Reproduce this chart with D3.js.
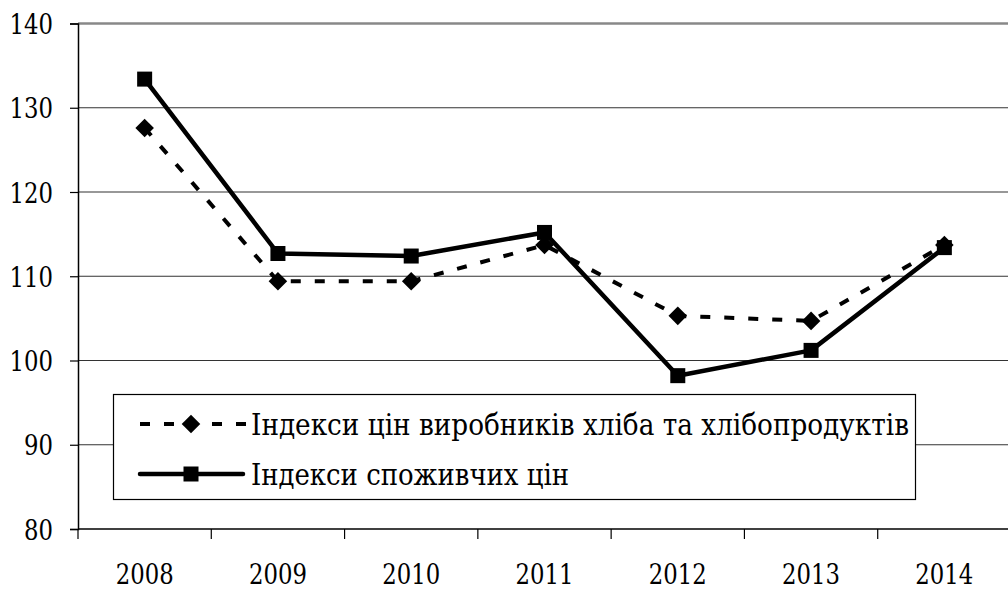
<!DOCTYPE html>
<html>
<head>
<meta charset="utf-8">
<script src="https://cdn.jsdelivr.net/npm/d3@7"></script>
<style>
  body { margin: 0; background: #fff; }
</style>
</head>
<body>
<svg id="chart" width="1008" height="592"></svg>
<script>
// data
var years = ["2008", "2009", "2010", "2011", "2012", "2013", "2014"];
var breadIdx = [127.6, 109.4, 109.4, 113.7, 105.3, 104.7, 113.7];
var cpiIdx = [133.4, 112.7, 112.4, 115.2, 98.2, 101.2, 113.4];
var yTicks = [80, 90, 100, 110, 120, 130, 140];
var legendNames = ["Індекси цін виробників хліба та хлібопродуктів", "Індекси споживчих цін"];

var FONT = "DejaVu Serif";

var svg = d3.select("#chart");
var plotL = 78, plotR = 1011, plotT = 23.5, plotB = 529;

var x = d3.scaleBand().domain(years).range([plotL, plotR]);
var y = d3.scaleLinear().domain([80, 140]).range([plotB, plotT]);

// gridlines
svg.append("g").selectAll("line").data(yTicks.slice(1, 6)).enter().append("line")
    .attr("x1", plotL).attr("x2", 1008)
    .attr("y1", function(d){ return y(d); }).attr("y2", function(d){ return y(d); })
    .attr("stroke", "#333").attr("stroke-width", 1.2);

// top border of plot
svg.append("line").attr("x1", plotL).attr("x2", 1008).attr("y1", plotT).attr("y2", plotT)
    .attr("stroke", "#888").attr("stroke-width", 2.5);

// y axis
var yAxis = d3.axisLeft(y).tickValues(yTicks).tickSize(8).tickPadding(10);
var gy = svg.append("g").attr("transform", "translate(" + plotL + ",0)").call(yAxis);
gy.select(".domain").attr("stroke", "#000").attr("stroke-width", 1.5);
gy.selectAll(".tick line").attr("stroke", "#000").attr("stroke-width", 1.2);
gy.selectAll("text").style("font-family", FONT).style("font-size", "28px")
    .attr("fill", "#000").attr("dy", "0.36em").attr("x", -25)
    .attr("textLength", function(d){ return String(d).length * 14.5; })
    .attr("lengthAdjust", "spacingAndGlyphs");

// x axis
var gx = svg.append("g").attr("transform", "translate(0," + plotB + ")");
gx.append("line").attr("x1", plotL).attr("x2", 1008).attr("y1", 0).attr("y2", 0)
    .attr("stroke", "#000").attr("stroke-width", 1.5);
gx.selectAll("line.tk").data(years).enter().append("line").attr("class", "tk")
    .attr("x1", function(d){ return x(d); }).attr("x2", function(d){ return x(d); })
    .attr("y1", 0).attr("y2", 10).attr("stroke", "#000").attr("stroke-width", 1.2);
gx.selectAll("text").data(years).enter().append("text")
    .attr("x", function(d){ return x(d) + x.bandwidth() / 2; })
    .attr("y", 55).attr("text-anchor", "middle")
    .style("font-family", FONT).style("font-size", "28px")
    .attr("textLength", 58).attr("lengthAdjust", "spacingAndGlyphs")
    .text(function(d){ return d; });

function cx(i){ return x(years[i]) + x.bandwidth() / 2; }

var line = d3.line().x(function(d, i){ return cx(i); }).y(function(d){ return y(d); });

// bread series, dashed with diamonds
svg.append("path").datum(breadIdx).attr("d", line).attr("fill", "none")
    .attr("stroke", "#000").attr("stroke-width", 4).attr("stroke-dasharray", "10,14");
svg.append("g").selectAll("path").data(breadIdx).enter().append("path")
    .attr("d", d3.symbol().type(d3.symbolDiamond2).size(220))
    .attr("transform", function(d, i){ return "translate(" + cx(i) + "," + y(d) + ")"; })
    .attr("fill", "#000");

// cpi series, solid with squares
svg.append("path").datum(cpiIdx).attr("d", line).attr("fill", "none")
    .attr("stroke", "#000").attr("stroke-width", 4.5).attr("stroke-linejoin", "round");
svg.append("g").selectAll("rect").data(cpiIdx).enter().append("rect")
    .attr("x", function(d, i){ return cx(i) - 7.5; }).attr("y", function(d){ return y(d) - 7.5; })
    .attr("width", 15).attr("height", 15).attr("fill", "#000");

// legend
var lg = svg.append("g");
lg.append("rect").attr("x", 113.5).attr("y", 394.5).attr("width", 802).attr("height", 105)
    .attr("fill", "#fff").attr("stroke", "#000").attr("stroke-width", 1.2);

var row1 = 424, row2 = 474;
lg.append("line").attr("x1", 140).attr("x2", 248).attr("y1", row1).attr("y2", row1)
    .attr("stroke", "#000").attr("stroke-width", 4).attr("stroke-dasharray", "10,14");
lg.append("path").attr("d", d3.symbol().type(d3.symbolDiamond2).size(220))
    .attr("transform", "translate(191," + row1 + ")").attr("fill", "#000");
lg.append("line").attr("x1", 140).attr("x2", 243).attr("y1", row2).attr("y2", row2)
    .attr("stroke", "#000").attr("stroke-width", 4.5).attr("stroke-linecap", "round");
lg.append("rect").attr("x", 183.5).attr("y", row2 - 7.5).attr("width", 15).attr("height", 15)
    .attr("fill", "#000");

lg.append("text").attr("x", 251).attr("y", row1 + 11)
    .style("font-family", FONT).style("font-size", "30px")
    .attr("textLength", 658).attr("lengthAdjust", "spacingAndGlyphs").text(legendNames[0]);
lg.append("text").attr("x", 251).attr("y", row2 + 11)
    .style("font-family", FONT).style("font-size", "30px")
    .attr("textLength", 318).attr("lengthAdjust", "spacingAndGlyphs").text(legendNames[1]);
</script>
</body>
</html>
